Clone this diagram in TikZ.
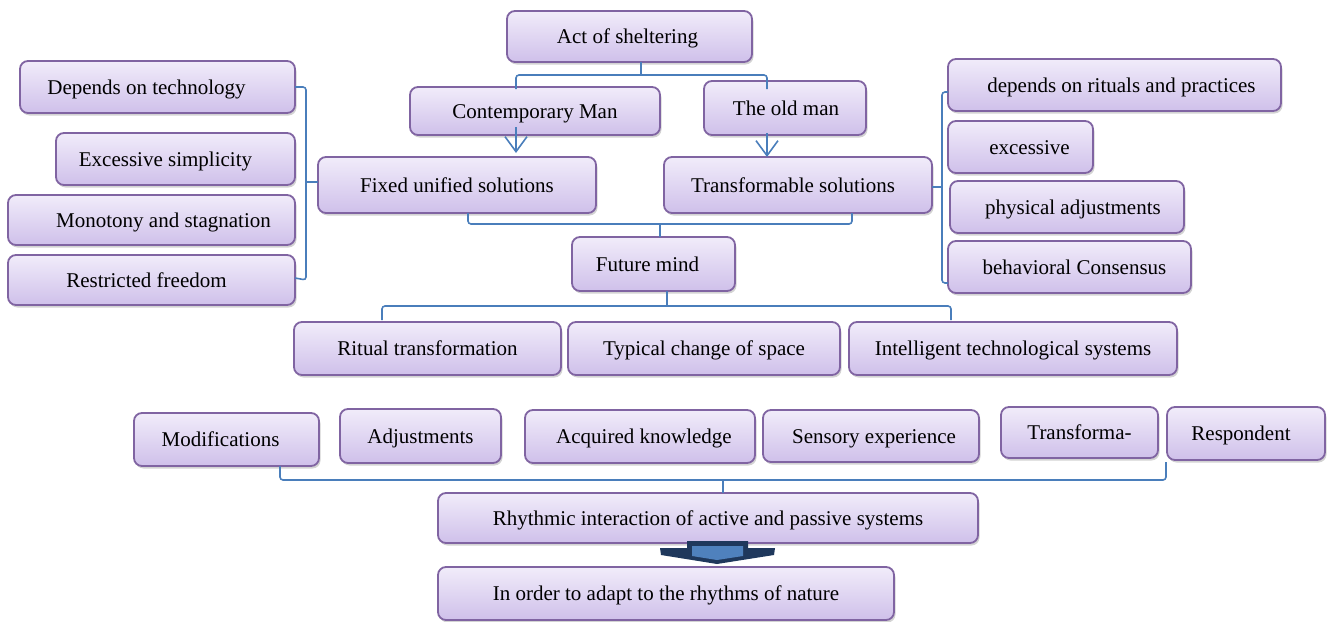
\documentclass[tikz,border=0pt]{standalone}
\usepackage{fontspec}
\setmainfont{Liberation Serif}
\usetikzlibrary{shadows,arrows.meta,calc}
\definecolor{bxborder}{RGB}{128,100,162}
\definecolor{bxtop}{RGB}{241,236,250}
\definecolor{bxbot}{RGB}{207,192,234}
\definecolor{conn}{RGB}{74,126,187}
\definecolor{navy}{RGB}{31,56,92}
\definecolor{shaftblue}{RGB}{79,129,189}
\tikzset{
  bx/.style={draw=bxborder, line width=1.8pt, rounded corners=8pt,
    top color=bxtop, bottom color=bxbot, inner sep=0pt, outer sep=0pt,
    drop shadow={shadow xshift=1.5pt, shadow yshift=-2.5pt, opacity=0.35}},
  lbl/.style={font=\fontsize{21}{24}\selectfont, inner sep=0pt, text height=14pt, text depth=0pt},
  cn/.style={draw=conn, line width=1.6pt, rounded corners=3pt},
  cnarrow/.style={cn, -{Straight Barb[length=15pt, width=22pt]}},
}
\newcommand\bxn[7]{%
  \node[bx, anchor=north west, minimum width={(#4-#2)*1pt}, minimum height={(#5-#3)*1pt}] (#1) at (#2,#3) {};
  \node[lbl] (#1t) at ([xshift=#6pt]#1.center) {#7};}
\begin{document}
\begin{tikzpicture}[x=1pt,y=-1pt]
\useasboundingbox (0,0) rectangle (1330,621);
% boxes
\bxn{act}{507}{11}{752}{62}{-2}{Act of sheltering}
\bxn{cm}{410}{87}{660}{135}{0}{Contemporary Man}
\bxn{old}{704}{81}{866}{135}{1}{The old man}
\bxn{dt}{20}{61}{295}{113}{-11}{Depends on technology}
\bxn{es}{56}{133}{295}{185}{-10}{Excessive simplicity}
\bxn{ms}{8}{195}{295}{245}{12}{Monotony and stagnation}
\bxn{rf}{8}{255}{295}{305}{-5}{Restricted freedom}
\bxn{fu}{318}{157}{596}{213}{0}{Fixed unified solutions}
\bxn{ts}{664}{157}{932}{213}{-5}{Transformable solutions}
\bxn{dr}{948}{59}{1281}{111}{7}{depends on rituals and practices}
\bxn{ex}{948}{121}{1093}{173}{9}{excessive}
\bxn{pa}{950}{181}{1184}{233}{6}{physical adjustments}
\bxn{bc}{948}{241}{1191}{293}{5}{behavioral Consensus}
\bxn{fm}{572}{237}{735}{291}{-6}{Future mind}
\bxn{rt}{294}{322}{561}{375}{0}{Ritual transformation}
\bxn{tc}{568}{322}{840}{375}{0}{Typical change of space}
\bxn{it}{849}{322}{1177}{375}{0}{Intelligent technological systems}
\bxn{mo}{134}{413}{319}{466}{-6}{Modifications}
\bxn{ad}{340}{409}{501}{463}{0}{Adjustments}
\bxn{ak}{525}{410}{755}{463}{4}{Acquired knowledge}
\bxn{se}{763}{410}{979}{462}{3}{Sensory experience}
\bxn{tf}{1001}{407}{1158}{458}{0}{Transforma-}
\bxn{rs}{1167}{407}{1325}{460}{-5}{Respondent}
\bxn{rh}{438}{493}{978}{543}{0}{Rhythmic interaction of active and passive systems}
\bxn{io}{438}{567}{894}{620}{0}{In order to adapt to the rhythms of nature}
% junction coordinates
\coordinate (ja) at (641,75);
\coordinate (jal) at (516,75);
\coordinate (jar) at (767,75);
\coordinate (lb) at (306,87);
\coordinate (rb) at (942,92);
\coordinate (je) at (660,224);
\coordinate (jel) at (468,224);
\coordinate (jer) at (852,224);
\coordinate (jf) at (667,306);
\coordinate (jfl) at (382,306);
\coordinate (jfr) at (951,306);
\coordinate (jg) at (723,480);
\coordinate (jgl) at (280,480);
\coordinate (jgr) at (1166,480);
% connectors
\draw[cn] (act.south -| ja) -- (ja);
\draw[cn] ([yshift=-2pt]cm.north -| jal) -- (jal) -- (jar) -- ([yshift=-8pt]old.north -| jar);
\draw[cnarrow, shorten >=4pt] ([yshift=8pt]cm.south -| jal) -- (fu.north -| jal);
\draw[cnarrow, shorten >=0pt] ([yshift=2pt]old.south -| jar) -- (ts.north -| jar);
\draw[cn] (dt.east) -- (lb) -- (lb |- rf.east) -- ([yshift=2pt]rf.east);
\draw[cn] ([yshift=3pt]lb |- fu.west) -- ([yshift=3pt]fu.west);
\draw[cn] ([yshift=-7pt]dr.west) -- (rb) -- ([yshift=-16pt]rb |- bc.west) -- ([yshift=-16pt]bc.west);
\draw[cn] ([yshift=-2pt]ts.east) -- ([yshift=-2pt]rb |- ts.east);
\draw[cn] (fu.south -| jel) -- (jel) -- (jer) -- (ts.south -| jer);
\draw[cn] (je) -- (fm.north -| je);
\draw[cn] (fm.south -| jf) -- (jf);
\draw[cn] ([yshift=2pt]rt.north -| jfl) -- (jfl) -- (jfr) -- ([yshift=2pt]it.north -| jfr);
\draw[cn] (mo.south -| jgl) -- (jgl) -- (jgr) -- ([yshift=-2pt]rs.south -| jgr);
\draw[cn] (jg) -- (rh.north -| jg);
% block arrow
\fill[navy] (687,541) -- (748,541) -- (748,548) -- (775,548) -- (774,555) -- (717,564) -- (661,555) -- (660,548) -- (687,548) -- cycle;
\fill[shaftblue] (692,546) -- (743,546) -- (743,556) -- (717,560) -- (692,556) -- cycle;
\end{tikzpicture}
\end{document}
